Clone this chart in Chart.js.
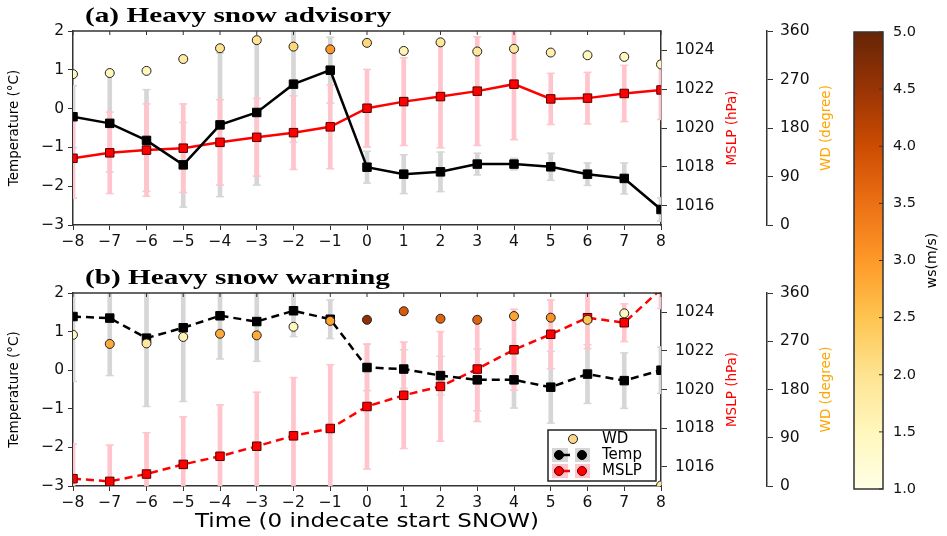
<!DOCTYPE html>
<html><head><meta charset="utf-8">
<script src="https://cdn.jsdelivr.net/npm/chart.js@4.4.1/dist/chart.umd.min.js"></script>
<style>
html,body{margin:0;padding:0;background:#fff;}
#wrap{position:relative;width:947px;height:536px;overflow:hidden;background:#fff;}
.box{position:absolute;}
</style></head><body>
<div id="wrap">
<div class="box" style="left:0;top:0;width:850px;height:255px"><canvas id="cA"></canvas></div>
<div class="box" style="left:0;top:255px;width:850px;height:281px"><canvas id="cB"></canvas></div>
<div class="box" style="left:840px;top:0;width:107px;height:536px"><canvas id="cC"></canvas></div>
</div>
<script>
// ---------- data ----------
const times = [-8,-7,-6,-5,-4,-3,-2,-1,0,1,2,3,4,5,6,7,8];
const xTicks = [-8,-7,-6,-5,-4,-3,-2,-1,0,1,2,3,4,5,6,7,8];
const tempTicks = [-3,-2,-1,0,1,2];
const mslpTicks = [1016,1018,1020,1022,1024];
const wdTicks = [0,90,180,270,360];
const wsTicks = [1.0,1.5,2.0,2.5,3.0,3.5,4.0,4.5,5.0];

// (a) Heavy snow advisory
const tempA   = [-0.21,-0.38,-0.82,-1.45,-0.42,-0.10,0.63,0.99,-1.51,-1.69,-1.63,-1.43,-1.43,-1.50,-1.69,-1.80,-2.60];
const tempSdA = [0.80,1.25,1.31,1.09,1.85,1.87,1.50,0.85,0.41,0.50,0.51,0.28,0.15,0.35,0.29,0.40,0.30];
const mslpA   = [1018.44,1018.72,1018.86,1018.96,1019.26,1019.52,1019.76,1020.06,1021.02,1021.36,1021.62,1021.90,1022.26,1021.50,1021.54,1021.78,1021.96];
const mslpSdA = [2.06,2.10,2.38,2.28,2.20,2.00,1.90,2.16,2.00,2.26,2.64,2.80,2.86,1.32,1.33,1.45,1.52];
const wdA     = [280,282,286,308,328,343,331,326,338,323,339,322,327,320,315,312,298];
const wsA     = [1.5,1.5,1.5,1.8,2.0,2.0,2.2,3.0,2.2,1.6,1.9,1.9,1.9,1.7,1.5,1.5,1.5];

// (b) Heavy snow warning
const tempB   = [1.39,1.35,0.83,1.10,1.41,1.26,1.54,1.32,0.07,0.03,-0.14,-0.25,-0.25,-0.44,-0.10,-0.27,0.00];
const tempSdB = [1.68,1.49,1.77,1.91,1.12,1.03,0.67,0.50,0.60,0.50,0.50,0.80,0.73,0.93,0.76,0.72,0.60];
const mslpB   = [1015.38,1015.24,1015.62,1016.12,1016.54,1017.06,1017.60,1017.98,1019.12,1019.70,1020.16,1021.06,1022.06,1022.86,1023.72,1023.46,1025.20];
const mslpSdB = [1.80,1.88,2.14,2.46,2.66,2.80,3.02,3.30,3.24,2.76,2.84,2.72,2.10,1.78,1.60,0.98,1.00];
const wdB     = [282,265,266,278,284,281,297,308,310,326,312,310,317,314,310,322,1];
const wsB     = [1.5,2.8,1.9,1.6,2.8,2.8,1.5,2.9,4.6,3.8,3.7,3.7,2.9,3.1,2.5,1.5,2.0];

// ---------- styling helpers ----------
const ylorbr = [[255,255,229],[255,247,188],[254,227,145],[254,196,79],[254,153,41],[236,112,20],[204,76,2],[153,52,4],[102,37,6]];
function wsColor(v){
  let t = (v-1)/4; t = Math.max(0, Math.min(1, t));
  const p = t*8, i = Math.min(7, Math.floor(p)), f = p - i;
  const a = ylorbr[i], b = ylorbr[i+1];
  return 'rgb(' + a.map((c,k)=>Math.round(c + (b[k]-c)*f)).join(',') + ')';
}
const fmt = v => v < 0 ? '\u2212' + Math.abs(v) : String(v);
const TICKFONT = {family:'DejaVu Sans', size:15.5};
const GREY = '#d6d6d6', PINK = '#ffc4cc';
Chart.defaults.font.family = 'DejaVu Sans';
Chart.defaults.color = '#111';

function panelDatasets(temp, tempSd, mslp, mslpSd, wd, ws, dashed){
  const pts = ys => times.map((t,i)=>({x:t, y:ys[i]}));
  const rng = (m, sd) => times.map((t,i)=>({x:t, y:[m[i]-sd[i], m[i]+sd[i]]}));
  const caps = (m, sd) => times.flatMap((t,i)=>[{x:t, y:m[i]-sd[i]}, {x:t, y:m[i]+sd[i]}]);
  const dash = dashed ? [8,5] : [];
  return [
    {type:'scatter', label:'WD', data:pts(wd), yAxisID:'yW', xAxisID:'x', pointStyle:'circle', pointRadius:4.5,
     pointBackgroundColor:ws.map(wsColor), pointBorderColor:'#222', pointBorderWidth:1, showLine:false, clip:0, order:0},
    {type:'line', label:'Temp', data:pts(temp), yAxisID:'y', xAxisID:'x', borderColor:'#000', borderWidth:2.5, borderDash:dash,
     pointStyle:'rect', pointRadius:6, pointBackgroundColor:'#000', pointBorderColor:'#000', pointBorderWidth:1, fill:false, tension:0, clip:0, order:1},
    {type:'line', label:'MSLP', data:pts(mslp), yAxisID:'yM', xAxisID:'x', borderColor:'#ff0000', borderWidth:2.5, borderDash:dash,
     pointStyle:'rect', pointRadius:6, pointBackgroundColor:'#ff0000', pointBorderColor:'#550000', pointBorderWidth:1, fill:false, tension:0, clip:0, order:2},
    {type:'scatter', label:'mslp caps', data:caps(mslp, mslpSd), yAxisID:'yM', xAxisID:'x', pointStyle:'line', pointRadius:4,
     borderColor:PINK, pointBorderColor:PINK, pointBorderWidth:1.5, showLine:false, clip:0, order:3},
    {type:'bar', label:'mslp err', data:rng(mslp, mslpSd), yAxisID:'yM', xAxisID:'x', backgroundColor:PINK, borderWidth:0,
     barThickness:4, grouped:false, clip:0, order:4},
    {type:'scatter', label:'temp caps', data:caps(temp, tempSd), yAxisID:'y', xAxisID:'x', pointStyle:'line', pointRadius:4,
     borderColor:GREY, pointBorderColor:GREY, pointBorderWidth:1.5, showLine:false, clip:0, order:5},
    {type:'bar', label:'temp err', data:rng(temp, tempSd), yAxisID:'y', xAxisID:'x', backgroundColor:GREY, borderWidth:0,
     barThickness:4, grouped:false, clip:0, order:6}
  ];
}

function setTicks(arr){ return s => { s.ticks = arr.map(v=>({value:v})); }; }
function axisGrid(len){ return {drawOnChartArea:false, drawTicks:true, tickLength:len, color:'#333', tickColor:'#333', tickWidth:1, offset:false}; }
const BORDER = {display:true, color:'#333', width:1.5};

function panelScales(xAxisHeight){
  return {
    x: {type:'linear', min:-8, max:8, offset:false, afterBuildTicks:setTicks(xTicks),
        ticks:{callback:fmt, font:TICKFONT, color:'#111', padding:3, maxRotation:0, autoSkip:false},
        grid:axisGrid(5), border:BORDER, afterFit:s=>{s.height = xAxisHeight;}},
    y: {type:'linear', position:'left', min:-3, max:2, beginAtZero:false, afterBuildTicks:setTicks(tempTicks),
        ticks:{callback:fmt, font:TICKFONT, color:'#111', padding:4},
        grid:axisGrid(5), border:BORDER, afterFit:s=>{s.width = 73;}},
    yM: {type:'linear', position:'right', weight:0, min:1015, max:1025, beginAtZero:false, afterBuildTicks:setTicks(mslpTicks),
        ticks:{callback:v=>String(v), font:TICKFONT, color:'#111', padding:8},
        grid:axisGrid(6), border:BORDER, afterFit:s=>{s.width = 106;}},
    yW: {type:'linear', position:'right', weight:1, min:0, max:360, beginAtZero:false, afterBuildTicks:setTicks(wdTicks),
        ticks:{callback:v=>String(v), font:TICKFONT, color:'#111', padding:7},
        grid:axisGrid(6), border:BORDER, afterFit:s=>{s.width = 83;}}
  };
}

function vtext(ctx, txt, x, y, font, color){
  ctx.save(); ctx.translate(x, y); ctx.rotate(-Math.PI/2);
  ctx.font = font; ctx.fillStyle = color; ctx.textAlign = 'center'; ctx.textBaseline = 'middle';
  ctx.fillText(txt, 0, 0); ctx.restore();
}

const panelPlugin = {
  id: 'panel',
  afterDraw(chart, args, o){
    const {ctx, chartArea:a} = chart;
    const xs = chart.scales.x;
    ctx.save();
    ctx.strokeStyle = '#333'; ctx.lineWidth = 1.5;
    ctx.beginPath(); ctx.moveTo(a.left, a.top); ctx.lineTo(a.right, a.top); ctx.stroke();
    ctx.lineWidth = 1;
    xTicks.forEach(v => { const px = xs.getPixelForValue(v); ctx.beginPath(); ctx.moveTo(px, a.top); ctx.lineTo(px, a.top + 4); ctx.stroke(); });
    // panel title
    ctx.save();
    ctx.font = 'bold 22px "Liberation Serif"'; ctx.fillStyle = '#000'; ctx.textAlign = 'left'; ctx.textBaseline = 'alphabetic';
    ctx.translate(85, a.top - 9); ctx.scale(1.33, 1); ctx.fillText(o.title, 0, 0);
    ctx.restore();
    // axis titles
    const cy = (a.top + a.bottom) / 2;
    vtext(ctx, 'Temperature (\u00B0C)', 14, cy, '13.5px "DejaVu Sans"', '#000');
    vtext(ctx, 'MSLP (hPa)', a.right + 71, cy, '13.5px "DejaVu Sans"', '#ff0000');
    vtext(ctx, 'WD (degree)', a.right + 165, cy, '13.5px "DejaVu Sans"', '#ffa500');
    if (o.xTitle){
      ctx.save();
      ctx.font = '20px "DejaVu Sans"'; ctx.fillStyle = '#000'; ctx.textAlign = 'center'; ctx.textBaseline = 'middle';
      ctx.translate((a.left + a.right) / 2, a.bottom + 36); ctx.scale(1.15, 1); ctx.fillText(o.xTitle, 0, 0);
      ctx.restore();
    }
    if (o.legend){
      const W = 108, H = 51, L = a.right - 5 - W, T = a.bottom - 5 - H;
      ctx.fillStyle = '#fff'; ctx.fillRect(L, T, W, H);
      ctx.strokeStyle = '#222'; ctx.lineWidth = 1.5; ctx.strokeRect(L, T, W, H);
      ctx.font = '15px "DejaVu Sans"'; ctx.textAlign = 'left'; ctx.textBaseline = 'middle';
      // WD
      let y = T + 9;
      ctx.beginPath(); ctx.arc(L + 25, y, 4.5, 0, Math.PI * 2); ctx.fillStyle = '#fdd587'; ctx.fill();
      ctx.lineWidth = 1; ctx.strokeStyle = '#222'; ctx.stroke();
      ctx.fillStyle = '#000'; ctx.fillText('WD', L + 54, y);
      const row = (yy, bg, col, edge, label) => {
        ctx.fillStyle = bg; ctx.fillRect(L + 4, yy - 7, 16, 14); ctx.fillRect(L + 27, yy - 7, 15, 14);
        ctx.strokeStyle = col; ctx.lineWidth = 2.5; ctx.beginPath(); ctx.moveTo(L + 6, yy); ctx.lineTo(L + 22, yy); ctx.stroke();
        [L + 11, L + 34].forEach(cx => { ctx.beginPath(); ctx.arc(cx, yy, 4.5, 0, Math.PI * 2); ctx.fillStyle = col; ctx.fill(); ctx.lineWidth = 1; ctx.strokeStyle = edge; ctx.stroke(); });
        ctx.fillStyle = '#000'; ctx.fillText(label, L + 54, yy);
      };
      row(T + 25, GREY, '#000', '#000', 'Temp');
      row(T + 41, PINK, '#ff0000', '#550000', 'MSLP');
    }
    ctx.restore();
  }
};

function makePanel(id, title, padTop, xH, ds, extra){
  return new Chart(document.getElementById(id), {
    type: 'line',
    data: {datasets: ds},
    options: {
      responsive: true, maintainAspectRatio: false, animation: false, events: [],
      layout: {padding: {top: padTop, left: 0, right: 0, bottom: 0}},
      plugins: {legend: {display: false}, tooltip: {enabled: false}, panel: Object.assign({title}, extra)},
      scales: panelScales(xH)
    },
    plugins: [panelPlugin]
  });
}

makePanel('cA', '(a) Heavy snow advisory', 31, 30,
  panelDatasets(tempA, tempSdA, mslpA, mslpSdA, wdA, wsA, false), {});
makePanel('cB', '(b) Heavy snow warning', 38, 50,
  panelDatasets(tempB, tempSdB, mslpB, mslpSdB, wdB, wsB, true),
  {xTitle: 'Time (0 indecate start SNOW)', legend: true});

// ---------- colorbar ----------
const cbarPlugin = {
  id: 'cbar',
  beforeDatasetsDraw(chart){
    const {ctx, chartArea:a, scales:{y}} = chart;
    const y0 = y.getPixelForValue(wsTicks[0]), y1 = y.getPixelForValue(wsTicks[wsTicks.length - 1]);
    const g = ctx.createLinearGradient(0, y0, 0, y1);
    ylorbr.forEach((c, i) => g.addColorStop(i / 8, 'rgb(' + c.join(',') + ')'));
    ctx.save(); ctx.fillStyle = g; ctx.fillRect(a.left, y1, a.right - a.left, y0 - y1); ctx.restore();
  },
  afterDraw(chart){
    const {ctx, chartArea:a, scales:{y}} = chart;
    ctx.save();
    ctx.strokeStyle = '#333'; ctx.lineWidth = 1.5; ctx.strokeRect(a.left, a.top, a.right - a.left, a.bottom - a.top);
    ctx.lineWidth = 1;
    wsTicks.forEach(v => { const py = y.getPixelForValue(v); ctx.beginPath(); ctx.moveTo(a.right - 4, py); ctx.lineTo(a.right, py); ctx.stroke(); });
    vtext(ctx, 'ws(m/s)', 92, (a.top + a.bottom) / 2, '14px "DejaVu Sans"', '#000');
    ctx.restore();
  }
};
new Chart(document.getElementById('cC'), {
  type: 'scatter',
  data: {datasets: []},
  options: {
    responsive: true, maintainAspectRatio: false, animation: false, events: [],
    layout: {padding: {top: 32, left: 14, right: 0, bottom: 47}},
    plugins: {legend: {display: false}, tooltip: {enabled: false}},
    scales: {
      x: {type: 'linear', display: false, min: 0, max: 1},
      y: {type: 'linear', position: 'right', min: 1, max: 5, afterBuildTicks: setTicks(wsTicks),
          ticks: {callback: v => v.toFixed(1), font: {family: 'DejaVu Sans', size: 14.5}, color: '#111', padding: 10},
          grid: {drawOnChartArea: false, drawTicks: false}, border: {display: false},
          afterFit: s => { s.width = 64; }}
    }
  },
  plugins: [cbarPlugin]
});
</script>
</body></html>
